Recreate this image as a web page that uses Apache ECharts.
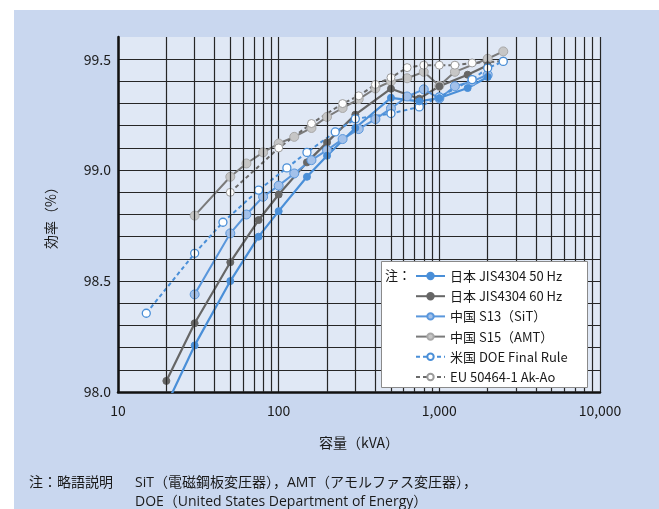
<!DOCTYPE html>
<html><head><meta charset="utf-8">
<script src="https://cdn.jsdelivr.net/npm/echarts@6/dist/echarts.min.js"></script>
<style>html,body{margin:0;padding:0;background:#fff}#c{width:659px;height:509px}</style>
</head><body><div id="c"></div>
<script>
// Transformer efficiency (%) versus rated capacity (kVA)
const seriesNames = ['日本 JIS4304 50 Hz', '日本 JIS4304 60 Hz', '中国 S13（SiT）', '中国 S15（AMT）', '米国 DOE Final Rule', 'EU 50464-1 Ak-Ao'];

const jis50 = [[20,97.94],[30,98.21],[50,98.50],[75,98.70],[100,98.815],[150,98.97],[200,99.065],[300,99.19],[500,99.326],[750,99.31],[1000,99.325],[1500,99.37],[2000,99.42]];
const jis60 = [[20,98.05],[30,98.31],[50,98.585],[75,98.775],[100,98.89],[150,99.035],[200,99.125],[300,99.25],[500,99.367],[750,99.322],[1000,99.378],[1500,99.43],[2000,99.473]];
const chinaS13 = [[30,98.44],[50,98.715],[63,98.80],[80,98.88],[100,98.93],[125,98.985],[160,99.045],[200,99.09],[250,99.14],[315,99.185],[400,99.23],[500,99.278],[630,99.332],[800,99.364],[1000,99.323],[1250,99.378],[1600,99.40],[2000,99.43]];
const chinaS15 = [[30,98.795],[50,98.97],[63,99.03],[80,99.08],[100,99.12],[125,99.15],[160,99.19],[200,99.24],[250,99.28],[315,99.32],[400,99.368],[500,99.40],[630,99.414],[800,99.443],[1000,99.38],[1250,99.443],[2000,99.502],[2500,99.535]];
const usDOE = [[15,98.355],[30,98.625],[45,98.765],[75,98.91],[112.5,99.01],[150,99.08],[225,99.172],[300,99.231],[500,99.255],[750,99.285],[1000,99.33],[1600,99.408],[2000,99.46],[2500,99.49]];
const euAkAo = [[50,98.90],[100,99.10],[160,99.21],[250,99.30],[315,99.335],[400,99.386],[500,99.417],[630,99.462],[800,99.473],[1000,99.473],[1250,99.473],[1600,99.483],[2500,99.491]];

// log-scale minor grid positions
const minorGridX = [20,30,40,50,60,70,80,90,200,300,400,500,600,700,800,900,2000,3000,4000,5000,6000,7000,8000,9000];

const FONT = '"Noto Sans CJK JP", "Noto Sans", sans-serif';
const NOTE_FONT = '"Open Sans", "Noto Sans CJK JP", sans-serif';
const GRID_COLOR = '#262626';

function lineSeries(name, data, o) {
  return {
    name, type: 'line', data, z: o.z || 3,
    symbol: 'circle', symbolSize: o.size,
    lineStyle: { color: o.line, width: o.width, type: o.dash ? [4, 3] : 'solid' },
    itemStyle: { color: o.fill, borderColor: o.border, borderWidth: o.bw || 1 },
    emphasis: { disabled: true },
    animation: false
  };
}

const chart = echarts.init(document.getElementById('c'), null, { renderer: 'canvas' });
chart.setOption({
  backgroundColor: '#ffffff',
  animation: false,
  textStyle: { fontFamily: FONT },
  grid: { left: 118, right: 59, top: 37, bottom: 117, show: true, backgroundColor: '#e0e8f5', borderWidth: 0 },
  xAxis: {
    type: 'log', logBase: 10, min: 10, max: 10000,
    name: '容量（kVA）', nameLocation: 'middle', nameGap: 44,
    nameTextStyle: { fontSize: 14, color: '#1a1a1a', fontFamily: FONT },
    axisLine: { lineStyle: { color: '#111', width: 2.5 } },
    axisTick: { show: false },
    axisLabel: { fontSize: 14, color: '#1a1a1a', margin: 12, fontFamily: FONT,
      formatter: v => Number(v).toLocaleString('en-US') },
    splitLine: { show: true, lineStyle: { color: GRID_COLOR, width: 1.2 } }
  },
  yAxis: {
    type: 'value', min: 98, max: 99.6, interval: 0.1,
    name: '効率（%）', nameLocation: 'middle', nameGap: 60, nameRotate: 90,
    nameTextStyle: { fontSize: 14, color: '#1a1a1a', fontFamily: FONT },
    axisLine: { show: true, lineStyle: { color: '#111', width: 2.5 } },
    axisTick: { show: false },
    axisLabel: { fontSize: 14, color: '#1a1a1a', margin: 7, fontFamily: FONT,
      formatter: v => (Math.abs(v * 2 - Math.round(v * 2)) < 1e-6 ? v.toFixed(1) : '') },
    splitLine: { show: true, showMaxLine: false, lineStyle: { color: GRID_COLOR, width: 1.2 } }
  },
  legend: {
    data: seriesNames, orient: 'vertical', left: 410, top: 264, z: 10,
    itemWidth: 29, itemHeight: 8, itemGap: 6.2,
    textStyle: { fontSize: 13, lineHeight: 14, color: '#1a1a1a', fontFamily: FONT },
    selectedMode: false
  },
  graphic: [
    { type: 'rect', z: -1, silent: true, shape: { x: 14, y: 10, width: 645, height: 499 }, style: { fill: '#c9d7ef' } },
    { type: 'rect', z: 9, silent: true, shape: { x: 381.5, y: 261.5, width: 206, height: 126 }, style: { fill: '#ffffff', stroke: '#8a8a8a', lineWidth: 1 } },
    { type: 'text', z: 11, silent: true, left: 385, top: 269, style: { text: '注：', font: '13px ' + FONT, fill: '#1a1a1a' } },
    { type: 'text', silent: true, left: 29, top: 476, style: { text: '注：略語説明', font: '14px ' + NOTE_FONT, fill: '#1a1a1a' } },
    { type: 'text', silent: true, left: 135, top: 476, style: { text: 'SiT（電磁鋼板変圧器），AMT（アモルファス変圧器），', font: '14px ' + NOTE_FONT, fill: '#1a1a1a' } },
    { type: 'text', silent: true, left: 135, top: 495, style: { text: 'DOE（United States Department of Energy）', font: '14px ' + NOTE_FONT, fill: '#1a1a1a' } }
  ],
  series: [
    {
      name: 'minor-grid', type: 'line', data: [], z: 1, silent: true,
      markLine: {
        silent: true, symbol: ['none', 'none'], label: { show: false }, animation: false,
        lineStyle: { color: GRID_COLOR, width: 1.2, type: 'solid' },
        emphasis: { disabled: true },
        data: minorGridX.map(v => ({ xAxis: v }))
      }
    },
    lineSeries(seriesNames[3], chinaS15, { line: '#7a7a7a', width: 2, fill: '#c6c6c6', border: '#a8a8a8', size: 9 }),
    lineSeries(seriesNames[5], euAkAo, { line: '#6a6a6a', width: 2, dash: true, fill: '#ffffff', border: '#9a9a9a', size: 8 }),
    lineSeries(seriesNames[1], jis60, { line: '#666666', width: 2.2, fill: '#666666', border: '#666666', size: 7 }),
    lineSeries(seriesNames[2], chinaS13, { line: '#5a97dc', width: 2, fill: '#a3c1ea', border: '#5a97dc', size: 9 }),
    lineSeries(seriesNames[4], usDOE, { line: '#4a8fd8', width: 2, dash: true, fill: '#ffffff', border: '#4a8fd8', size: 8, bw: 1.3 }),
    lineSeries(seriesNames[0], jis50, { line: '#4a8fd8', width: 2.2, fill: '#4a8fd8', border: '#4a8fd8', size: 7 })
  ]
});
</script>
</body></html>
